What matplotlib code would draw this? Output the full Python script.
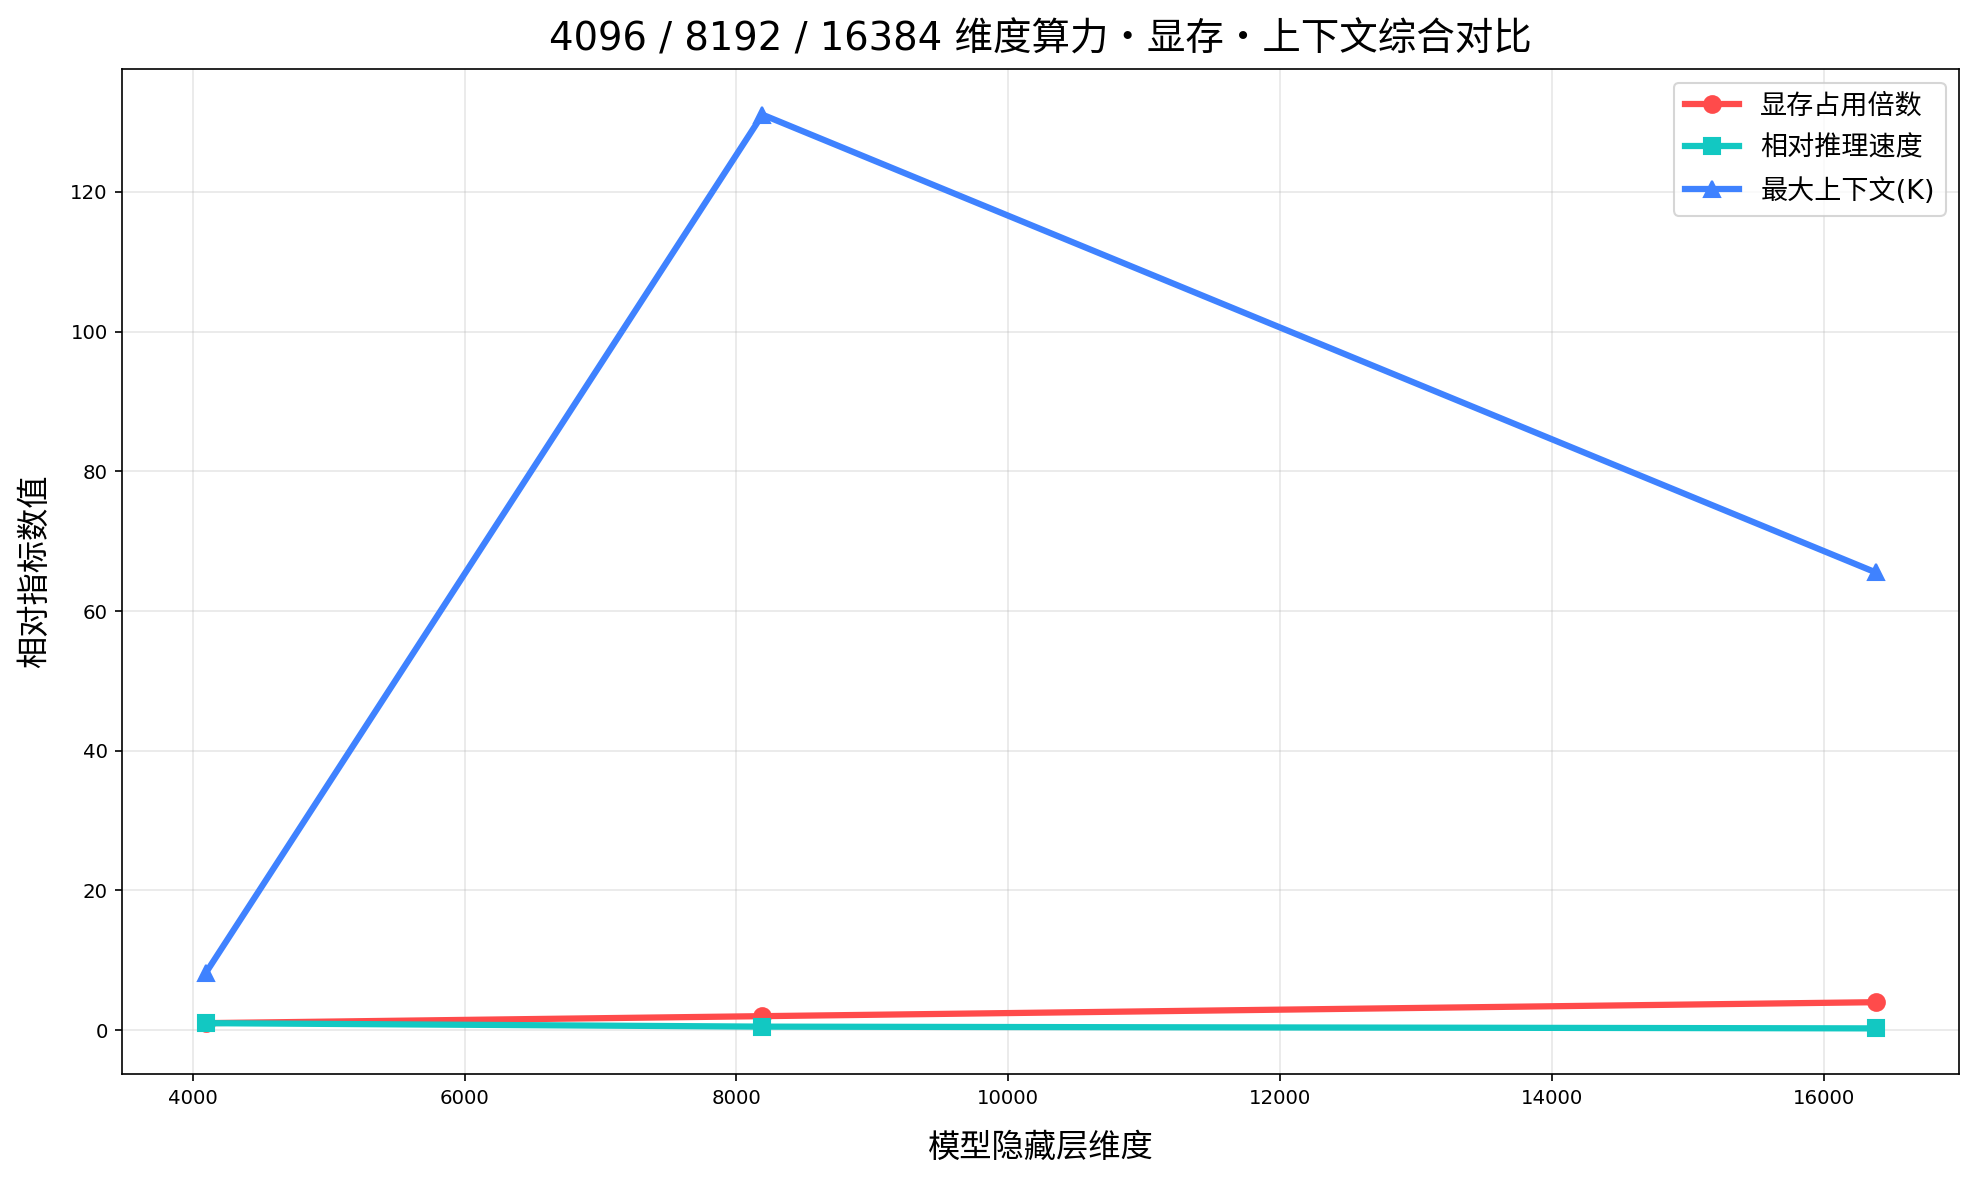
import matplotlib
matplotlib.use("Agg")
import matplotlib.pyplot as plt

plt.rcParams['font.family'] = ['DejaVu Sans', 'Noto Sans CJK SC']
plt.rcParams['axes.unicode_minus'] = False

dims = [4096, 8192, 16384]
memory = [1, 2, 4]
speed = [1, 0.5, 0.25]
context_k = [8.192, 131.072, 65.536]

fig = plt.figure(figsize=(1979/150, 1179/150), dpi=150)
ax = fig.add_axes([0.0618, 0.089, 0.9282, 0.8525])

ax.plot(dims, memory, '-o', color='#FF4B4B', lw=3, ms=8, label='显存占用倍数')
ax.plot(dims, speed, '-s', color='#12C8C2', lw=3, ms=8, label='相对推理速度')
ax.plot(dims, context_k, '-^', color='#3F82FF', lw=3, ms=8, label='最大上下文(K)')

ax.set_title('4096 / 8192 / 16384 维度算力・显存・上下文综合对比', fontsize=18.5, pad=9)
ax.set_xlabel('模型隐藏层维度', fontsize=15.5, labelpad=12)
ax.set_ylabel('相对指标数值', fontsize=15.5, labelpad=9)
ax.tick_params(labelsize=9.5)
ax.grid(True, alpha=0.3)
ax.legend(loc='upper right', fontsize=13, labelspacing=0.6)

fig.savefig('out.png', dpi=150)
